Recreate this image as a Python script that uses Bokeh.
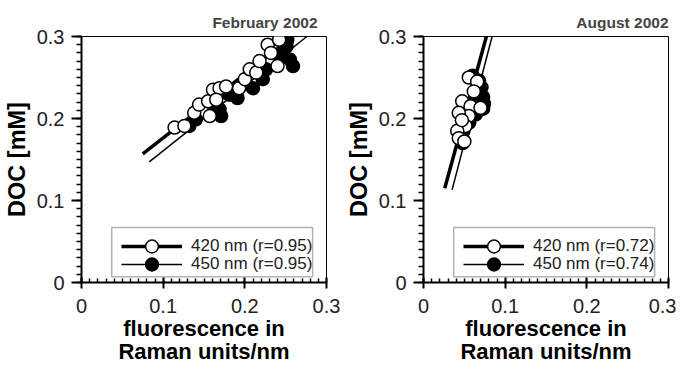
from bokeh.plotting import figure
from bokeh.layouts import row
from bokeh.models import Legend, LegendItem, FixedTicker, Range1d, BoxAnnotation
from bokeh.embed import file_html
from bokeh.resources import INLINE

FONT = "Liberation Sans"

# ---------------- data ----------------
tick_values = [0, 0.1, 0.2, 0.3]
tick_labels = ["0", "0.1", "0.2", "0.3"]

# February 2002
feb_title = "February 2002"
feb_x420 = [0.114, 0.126, 0.138, 0.144, 0.155, 0.157, 0.161, 0.169, 0.177, 0.165,
            0.193, 0.200, 0.206, 0.214, 0.218, 0.228, 0.232, 0.240, 0.242]
feb_y420 = [0.189, 0.191, 0.207, 0.217, 0.221, 0.203, 0.235, 0.237, 0.239, 0.223,
            0.237, 0.248, 0.260, 0.256, 0.270, 0.290, 0.280, 0.264, 0.296]
feb_x450 = [0.132, 0.140, 0.169, 0.171, 0.191, 0.210, 0.222, 0.226, 0.242, 0.251,
            0.255, 0.259, 0.252, 0.161, 0.181]
feb_y450 = [0.191, 0.199, 0.211, 0.203, 0.225, 0.237, 0.248, 0.260, 0.276, 0.288,
            0.272, 0.264, 0.296, 0.217, 0.229]
feb_fit420_x = [0.075, 0.259]
feb_fit420_y = [0.157, 0.300]
feb_fit450_x = [0.083, 0.276]
feb_fit450_y = [0.147, 0.300]
feb_lab420 = "420 nm (r=0.95)"
feb_lab450 = "450 nm (r=0.95)"

# August 2002
aug_title = "August 2002"
aug_x420 = [0.0555, 0.0657, 0.0616, 0.0474, 0.0576, 0.0698, 0.0555, 0.0432, 0.0514,
            0.0413, 0.0432, 0.0500, 0.0470]
aug_y420 = [0.250, 0.245, 0.233, 0.221, 0.215, 0.213, 0.203, 0.207, 0.191,
            0.185, 0.176, 0.172, 0.198]
aug_x450 = [0.060, 0.068, 0.071, 0.073, 0.074, 0.073, 0.064, 0.056, 0.049, 0.045,
            0.048, 0.062]
aug_y450 = [0.252, 0.246, 0.238, 0.226, 0.218, 0.212, 0.205, 0.195, 0.185, 0.176,
            0.170, 0.222]
aug_fit420_x = [0.026, 0.077]
aug_fit420_y = [0.115, 0.300]
aug_fit450_x = [0.035, 0.084]
aug_fit450_y = [0.113, 0.300]
aug_lab420 = "420 nm (r=0.72)"
aug_lab450 = "450 nm (r=0.74)"

minor_ticks = [round(i * 0.01, 2) for i in range(31)]


def make_legend(label, renderers, y):
    return Legend(items=[LegendItem(label=label, renderers=renderers)],
                  location=(40, y), glyph_width=61, glyph_height=32, label_height=32,
                  spacing=0, padding=0, label_standoff=9, margin=0,
                  label_text_font=FONT, label_text_font_size="17px",
                  label_text_color="#222222",
                  border_line_alpha=0, background_fill_alpha=0)


def panel(title, x420, y420, x450, y450, fx420, fy420, fx450, fy450,
          lab420, lab450, border_right, title_offset):
    p = figure(frame_width=245, frame_height=246,
               x_range=Range1d(0, 0.3), y_range=Range1d(0, 0.3),
               output_backend="svg", toolbar_location=None,
               min_border_left=80, min_border_right=border_right,
               min_border_top=36, min_border_bottom=78)
    p.xgrid.visible = False
    p.ygrid.visible = False
    p.outline_line_color = "black"
    p.outline_line_width = 1
    p.background_fill_color = "white"
    p.border_fill_color = "white"

    p.title.text = title
    p.title.align = "right"
    p.title.text_font = FONT
    p.title.text_font_size = "15.5px"
    p.title.text_font_style = "bold"
    p.title.offset = title_offset
    p.title.standoff = 11

    for ax in (p.xaxis[0], p.yaxis[0]):
        ax.ticker = FixedTicker(ticks=tick_values, minor_ticks=minor_ticks)
        ax.major_label_overrides = dict(zip(tick_values, tick_labels))
        ax.axis_line_width = 2
        ax.axis_line_color = "black"
        ax.major_tick_line_width = 2
        ax.minor_tick_line_width = 1.5
        ax.major_label_text_font = FONT
        ax.major_label_text_font_size = "20px"
        ax.major_label_text_color = "#222222"
        ax.axis_label_text_font = FONT
        ax.axis_label_text_font_style = "bold"
        ax.axis_label_text_color = "black"

    p.xaxis.major_tick_in = 5
    p.xaxis.major_tick_out = 6
    p.xaxis.minor_tick_in = 4
    p.xaxis.minor_tick_out = 0
    p.xaxis.major_label_standoff = 10
    p.xaxis.axis_label = "fluorescence in\nRaman units/nm"
    p.xaxis.axis_label_text_font_size = "22px"
    p.xaxis.axis_label_text_line_height = 0.95
    p.xaxis.axis_label_standoff = 0

    p.yaxis.major_tick_in = 0
    p.yaxis.major_tick_out = 10
    p.yaxis.minor_tick_in = 0
    p.yaxis.minor_tick_out = 5
    p.yaxis.major_label_standoff = 7
    p.yaxis.axis_label = "DOC [mM]"
    p.yaxis.axis_label_text_font_size = "23.5px"
    p.yaxis.axis_label_standoff = 4

    l420 = p.line(fx420, fy420, line_color="black", line_width=3.5)
    l450 = p.line(fx450, fy450, line_color="black", line_width=1.5)
    s450 = p.scatter(x450, y450, marker="circle", size=13, fill_color="black",
                     line_color="black", line_width=1.5)
    s420 = p.scatter(x420, y420, marker="circle", size=13, fill_color="white",
                     line_color="black", line_width=1.5)

    # legend frame (0.037..0.283 x, 0.007..0.067 y of the axes)
    box = BoxAnnotation(left=0.037, right=0.283, bottom=0.007, top=0.067,
                        fill_color="white", fill_alpha=1,
                        line_color="black", line_width=1.5, level="overlay")
    p.add_layout(box)
    p.add_layout(make_legend(lab420, [l420, s420], 20))
    p.add_layout(make_legend(lab450, [l450, s450], 2))
    return p


p1 = panel(feb_title, feb_x420, feb_y420, feb_x450, feb_y450,
           feb_fit420_x, feb_fit420_y, feb_fit450_x, feb_fit450_y,
           feb_lab420, feb_lab450, 16, 9)
p2 = panel(aug_title, aug_x420, aug_y420, aug_x450, aug_y450,
           aug_fit420_x, aug_fit420_y, aug_fit450_x, aug_fit450_y,
           aug_lab420, aug_lab450, 8, 0)

layout = row(p1, p2)
open("out.html", "w").write(file_html(layout, INLINE))
